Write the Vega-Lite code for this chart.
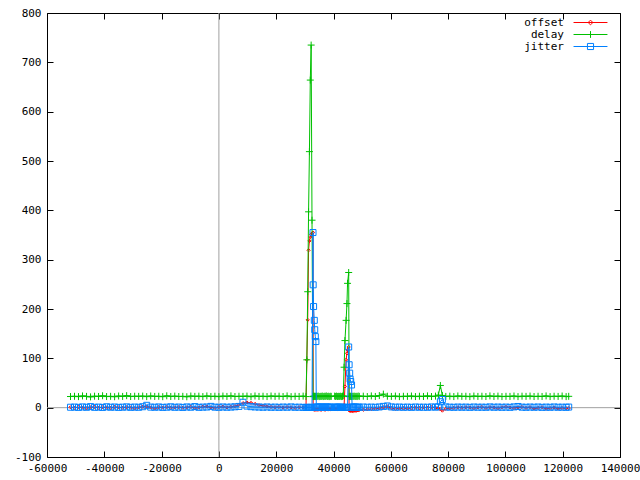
{
  "$schema": "https://vega.github.io/schema/vega-lite/v6.json",
  "width": 573,
  "height": 444,
  "autosize": {"type": "none"},
  "padding": {"left": 47, "top": 13, "right": 20, "bottom": 23},
  "background": "white",
  "config": {
    "font": "DejaVu Sans Mono",
    "view": {"stroke": "black", "strokeWidth": 1},
    "axis": {"grid": false, "domain": false, "title": null, "ticks": true, "tickWidth": 1, "tickOpacity": 1, "labelFont": "DejaVu Sans Mono", "labelFontSize": 11, "labelColor": "black", "tickColor": "black", "tickSize": 6, "offset": -6, "labelFlush": false, "labelOverlap": false, "labelBound": false, "zindex": 2}
  },
  "datasets": {
    "ntp": [
      {"t": -51800, "offset": 0.8, "delay": 22.6, "jitter": 0.9},
      {"t": -50400, "offset": -0.5, "delay": 23.1, "jitter": 1.2},
      {"t": -49000, "offset": 1.2, "delay": 22.4, "jitter": 0.6},
      {"t": -47600, "offset": 0.3, "delay": 23.8, "jitter": 1.5},
      {"t": -46200, "offset": -1.1, "delay": 22.9, "jitter": 0.8},
      {"t": -44800, "offset": 0.6, "delay": 21.9, "jitter": 2.1},
      {"t": -43400, "offset": 1.5, "delay": 23.3, "jitter": 0.7},
      {"t": -42000, "offset": -0.4, "delay": 22.7, "jitter": 1.1},
      {"t": -40600, "offset": 0.9, "delay": 24.1, "jitter": 0.5},
      {"t": -39200, "offset": 0.2, "delay": 22.5, "jitter": 1.8},
      {"t": -37800, "offset": -0.8, "delay": 23.0, "jitter": 0.9},
      {"t": -36400, "offset": 1.4, "delay": 22.2, "jitter": 1.3},
      {"t": -35000, "offset": 0.5, "delay": 23.6, "jitter": 0.6},
      {"t": -33600, "offset": -0.3, "delay": 22.8, "jitter": 1.0},
      {"t": -32200, "offset": 1.0, "delay": 24.3, "jitter": 1.6},
      {"t": -30800, "offset": 0.1, "delay": 22.6, "jitter": 0.7},
      {"t": -29400, "offset": -1.2, "delay": 23.2, "jitter": 1.2},
      {"t": -28000, "offset": 0.7, "delay": 22.9, "jitter": 0.8},
      {"t": -26600, "offset": 1.8, "delay": 23.5, "jitter": 1.9},
      {"t": -25200, "offset": 2.5, "delay": 22.4, "jitter": 4.8},
      {"t": -23800, "offset": 0.4, "delay": 23.7, "jitter": 1.1},
      {"t": -22400, "offset": -1.6, "delay": 22.8, "jitter": 0.9},
      {"t": -21000, "offset": 0.9, "delay": 23.1, "jitter": 1.4},
      {"t": -19600, "offset": 0.2, "delay": 22.3, "jitter": 0.6},
      {"t": -18200, "offset": 1.3, "delay": 24.0, "jitter": 1.0},
      {"t": -16800, "offset": -0.6, "delay": 22.7, "jitter": 1.7},
      {"t": -15400, "offset": 0.5, "delay": 23.4, "jitter": 0.8},
      {"t": -14000, "offset": 1.1, "delay": 22.6, "jitter": 1.2},
      {"t": -12600, "offset": -0.2, "delay": 23.0, "jitter": 0.5},
      {"t": -11200, "offset": 0.8, "delay": 22.1, "jitter": 1.5},
      {"t": -9800, "offset": 1.6, "delay": 23.6, "jitter": 0.9},
      {"t": -8400, "offset": -0.9, "delay": 22.9, "jitter": 2.2},
      {"t": -7000, "offset": 0.4, "delay": 23.3, "jitter": 0.7},
      {"t": -5600, "offset": 1.9, "delay": 22.5, "jitter": 1.1},
      {"t": -4200, "offset": 2.4, "delay": 23.8, "jitter": 1.3},
      {"t": -2800, "offset": 0.6, "delay": 22.7, "jitter": 2.6},
      {"t": -1400, "offset": -0.7, "delay": 23.2, "jitter": 1.0},
      {"t": 0, "offset": 1.2, "delay": 22.4, "jitter": 0.8},
      {"t": 1400, "offset": 2.0, "delay": 23.5, "jitter": 1.4},
      {"t": 2800, "offset": 0.5, "delay": 22.8, "jitter": 0.9},
      {"t": 4200, "offset": 1.7, "delay": 23.9, "jitter": 1.2},
      {"t": 5600, "offset": 3.1, "delay": 22.6, "jitter": 1.8},
      {"t": 7000, "offset": 5.4, "delay": 23.1, "jitter": 2.5},
      {"t": 8400, "offset": 9.2, "delay": 22.9, "jitter": 11.0},
      {"t": 9800, "offset": 10.5, "delay": 23.4, "jitter": 3.2},
      {"t": 11200, "offset": 9.8, "delay": 22.3, "jitter": 2.0},
      {"t": 12600, "offset": 7.6, "delay": 23.7, "jitter": 1.5},
      {"t": 14000, "offset": 5.2, "delay": 22.8, "jitter": 1.2},
      {"t": 15400, "offset": 3.9, "delay": 23.2, "jitter": 0.9},
      {"t": 16800, "offset": 2.6, "delay": 22.5, "jitter": 1.4},
      {"t": 18200, "offset": 1.5, "delay": 23.6, "jitter": 0.8},
      {"t": 19600, "offset": 0.8, "delay": 22.9, "jitter": 1.1},
      {"t": 21000, "offset": 1.4, "delay": 23.3, "jitter": 0.7},
      {"t": 22400, "offset": 0.3, "delay": 22.6, "jitter": 1.2},
      {"t": 23800, "offset": 1.1, "delay": 23.8, "jitter": 0.9},
      {"t": 25200, "offset": 0.6, "delay": 22.4, "jitter": 1.5},
      {"t": 26600, "offset": -0.4, "delay": 23.1, "jitter": 0.8},
      {"t": 28000, "offset": 0.9, "delay": 22.7, "jitter": 1.0},
      {"t": 29400, "offset": 0.4, "delay": 23.4, "jitter": 0.6},
      {"t": 30400, "offset": 0.5, "delay": 22.5, "jitter": 0.6},
      {"t": 30700, "offset": 97, "delay": 97, "jitter": 0.5},
      {"t": 31000, "offset": 178, "delay": 235, "jitter": 0.4},
      {"t": 31300, "offset": 319, "delay": 397, "jitter": 0.4},
      {"t": 31600, "offset": 338, "delay": 519, "jitter": 0.5},
      {"t": 31900, "offset": 346, "delay": 664, "jitter": 0.5},
      {"t": 32200, "offset": 351, "delay": 735, "jitter": 0.5},
      {"t": 32500, "offset": 353, "delay": 380, "jitter": 0.6},
      {"t": 32850, "offset": 355, "delay": 22.4, "jitter": 355},
      {"t": 32900, "offset": -3.0, "delay": 23.1, "jitter": 249},
      {"t": 33050, "offset": -3.5, "delay": 22.6, "jitter": 205},
      {"t": 33300, "offset": -4.1, "delay": 23.3, "jitter": 177},
      {"t": 33450, "offset": -3.8, "delay": 22.5, "jitter": 158},
      {"t": 33650, "offset": -3.6, "delay": 23.0, "jitter": 144},
      {"t": 33850, "offset": -4.2, "delay": 22.4, "jitter": 134},
      {"t": 34000, "offset": -3.4, "delay": 23.2, "jitter": 1.5},
      {"t": 34300, "offset": -3.8, "delay": 22.8, "jitter": 0.9},
      {"t": 34650, "offset": -4.0, "delay": 23.5, "jitter": 1.2},
      {"t": 35000, "offset": -3.3, "delay": 22.4, "jitter": 0.8},
      {"t": 35350, "offset": -3.9, "delay": 23.0, "jitter": 1.1},
      {"t": 35700, "offset": -4.4, "delay": 22.7, "jitter": 0.7},
      {"t": 36050, "offset": -3.6, "delay": 23.6, "jitter": 1.3},
      {"t": 36400, "offset": -3.1, "delay": 22.5, "jitter": 0.9},
      {"t": 36750, "offset": -3.7, "delay": 23.2, "jitter": 1.0},
      {"t": 37100, "offset": -4.2, "delay": 22.8, "jitter": 0.6},
      {"t": 37450, "offset": -3.5, "delay": 23.9, "jitter": 1.4},
      {"t": 37800, "offset": -3.0, "delay": 22.6, "jitter": 0.8},
      {"t": 38150, "offset": -3.8, "delay": 23.3, "jitter": 1.1},
      {"t": 38500, "offset": -3.3, "delay": 22.4, "jitter": 0.7},
      {"t": 38850, "offset": -2.9, "delay": 23.1, "jitter": 1.2},
      {"t": 39200, "offset": -3.4, "delay": 22.9, "jitter": 0.9},
      {"t": 40400, "offset": -3.1, "delay": 23.4, "jitter": 1.0},
      {"t": 40750, "offset": -2.8, "delay": 22.7, "jitter": 0.8},
      {"t": 41100, "offset": -3.2, "delay": 23.5, "jitter": 1.1},
      {"t": 41450, "offset": -2.5, "delay": 22.6, "jitter": 0.9},
      {"t": 41800, "offset": -2.9, "delay": 23.0, "jitter": 0.7},
      {"t": 42150, "offset": -2.6, "delay": 22.8, "jitter": 1.0},
      {"t": 42500, "offset": -2.2, "delay": 23.3, "jitter": 0.8},
      {"t": 42850, "offset": -2.7, "delay": 22.5, "jitter": 0.6},
      {"t": 43150, "offset": -2.3, "delay": 23.1, "jitter": 0.9},
      {"t": 43400, "offset": -2.0, "delay": 24.0, "jitter": 0.5},
      {"t": 43700, "offset": 5, "delay": 82, "jitter": 0.5},
      {"t": 44000, "offset": 43, "delay": 136, "jitter": 0.5},
      {"t": 44400, "offset": 97, "delay": 177, "jitter": 0.5},
      {"t": 44700, "offset": 110, "delay": 211, "jitter": 0.5},
      {"t": 44900, "offset": 117, "delay": 252, "jitter": 0.6},
      {"t": 45300, "offset": 123, "delay": 274, "jitter": 123},
      {"t": 45450, "offset": -5.2, "delay": 22.4, "jitter": 87},
      {"t": 45650, "offset": -6.1, "delay": 23.1, "jitter": 70},
      {"t": 45800, "offset": -5.8, "delay": 22.6, "jitter": 58},
      {"t": 46000, "offset": -6.5, "delay": 23.3, "jitter": 53},
      {"t": 46300, "offset": -6.0, "delay": 22.5, "jitter": 46},
      {"t": 46500, "offset": -6.3, "delay": 23.0, "jitter": 1.5},
      {"t": 46850, "offset": -6.8, "delay": 22.8, "jitter": 0.9},
      {"t": 47200, "offset": -6.2, "delay": 23.4, "jitter": 1.2},
      {"t": 47550, "offset": -5.9, "delay": 22.7, "jitter": 0.8},
      {"t": 47900, "offset": -6.4, "delay": 23.1, "jitter": 1.0},
      {"t": 48250, "offset": -5.5, "delay": 22.5, "jitter": 0.7},
      {"t": 48600, "offset": -5.1, "delay": 23.6, "jitter": 1.1},
      {"t": 49000, "offset": -4.6, "delay": 22.9, "jitter": 0.8},
      {"t": 50400, "offset": -4.2, "delay": 23.3, "jitter": 1.3},
      {"t": 51800, "offset": -3.5, "delay": 22.6, "jitter": 0.9},
      {"t": 53200, "offset": -2.8, "delay": 23.8, "jitter": 1.1},
      {"t": 54600, "offset": -2.1, "delay": 22.7, "jitter": 0.8},
      {"t": 56000, "offset": -1.5, "delay": 24.5, "jitter": 1.4},
      {"t": 57400, "offset": 0.8, "delay": 27.5, "jitter": 2.6},
      {"t": 58800, "offset": 2.5, "delay": 23.2, "jitter": 3.5},
      {"t": 60200, "offset": -1.2, "delay": 22.8, "jitter": 1.5},
      {"t": 61600, "offset": -2.4, "delay": 23.5, "jitter": 1.0},
      {"t": 63000, "offset": -1.8, "delay": 22.4, "jitter": 1.2},
      {"t": 64400, "offset": -0.9, "delay": 23.1, "jitter": 0.8},
      {"t": 65800, "offset": -1.5, "delay": 22.9, "jitter": 1.1},
      {"t": 67200, "offset": -0.6, "delay": 23.6, "jitter": 0.7},
      {"t": 68600, "offset": 0.4, "delay": 22.5, "jitter": 1.3},
      {"t": 70000, "offset": -0.8, "delay": 23.2, "jitter": 0.9},
      {"t": 71400, "offset": 0.6, "delay": 22.7, "jitter": 1.0},
      {"t": 72800, "offset": -0.3, "delay": 23.9, "jitter": 0.8},
      {"t": 74200, "offset": 0.9, "delay": 22.6, "jitter": 1.4},
      {"t": 75600, "offset": -0.5, "delay": 23.4, "jitter": 1.1},
      {"t": 76600, "offset": -1.2, "delay": 25.5, "jitter": 1.8},
      {"t": 77300, "offset": -3.5, "delay": 45.0, "jitter": 12.0},
      {"t": 78000, "offset": -6.0, "delay": 24.8, "jitter": 16.5},
      {"t": 79200, "offset": -2.6, "delay": 22.8, "jitter": 1.6},
      {"t": 80600, "offset": -1.3, "delay": 23.3, "jitter": 1.0},
      {"t": 82000, "offset": -0.4, "delay": 22.5, "jitter": 0.8},
      {"t": 83400, "offset": 0.7, "delay": 23.7, "jitter": 1.2},
      {"t": 84800, "offset": -0.2, "delay": 22.9, "jitter": 0.9},
      {"t": 86200, "offset": 0.8, "delay": 23.1, "jitter": 1.1},
      {"t": 87600, "offset": 0.3, "delay": 22.4, "jitter": 0.7},
      {"t": 89000, "offset": -0.9, "delay": 23.5, "jitter": 1.3},
      {"t": 90400, "offset": 0.5, "delay": 22.8, "jitter": 0.9},
      {"t": 91800, "offset": 1.2, "delay": 23.2, "jitter": 1.0},
      {"t": 93200, "offset": -0.6, "delay": 22.6, "jitter": 0.8},
      {"t": 94600, "offset": 0.9, "delay": 23.8, "jitter": 1.5},
      {"t": 96000, "offset": 0.2, "delay": 22.7, "jitter": 0.9},
      {"t": 97400, "offset": -1.1, "delay": 23.4, "jitter": 1.2},
      {"t": 98800, "offset": 0.7, "delay": 22.5, "jitter": 0.8},
      {"t": 100200, "offset": 1.6, "delay": 23.0, "jitter": 1.1},
      {"t": 101600, "offset": 0.4, "delay": 22.8, "jitter": 0.7},
      {"t": 103000, "offset": -0.8, "delay": 23.6, "jitter": 1.6},
      {"t": 104400, "offset": 0.6, "delay": 22.4, "jitter": 2.4},
      {"t": 105800, "offset": 1.3, "delay": 23.3, "jitter": 1.0},
      {"t": 107200, "offset": -0.4, "delay": 22.9, "jitter": 0.8},
      {"t": 108600, "offset": 0.9, "delay": 23.5, "jitter": 1.2},
      {"t": 110000, "offset": -1.7, "delay": 22.6, "jitter": 0.9},
      {"t": 111400, "offset": -0.5, "delay": 23.1, "jitter": 1.3},
      {"t": 112800, "offset": 0.8, "delay": 22.7, "jitter": 0.7},
      {"t": 114200, "offset": -2.1, "delay": 23.8, "jitter": 1.1},
      {"t": 115600, "offset": -0.9, "delay": 22.5, "jitter": 0.8},
      {"t": 117000, "offset": 0.4, "delay": 23.2, "jitter": 1.4},
      {"t": 118400, "offset": -1.9, "delay": 22.8, "jitter": 0.9},
      {"t": 119800, "offset": -0.6, "delay": 23.6, "jitter": 1.0},
      {"t": 121200, "offset": -1.4, "delay": 22.4, "jitter": 0.8},
      {"t": 122100, "offset": -0.8, "delay": 23.0, "jitter": 1.2}
    ]
  },
  "resolve": {"axis": {"x": "independent", "y": "independent"}},
  "layer": [
    {
      "data": {"values": [{}]},
      "mark": {"type": "rule", "color": "#a0a0a0", "strokeWidth": 1},
      "encoding": {
        "x": {"datum": 0, "type": "quantitative", "scale": {"domain": [-60000, 140000], "nice": false, "zero": false},
          "axis": {"orient": "top", "labels": false, "values": [-60000, -40000, -20000, 0, 20000, 40000, 60000, 80000, 100000, 120000, 140000]}}
      }
    },
    {
      "data": {"values": [{}]},
      "mark": {"type": "rule", "color": "#a0a0a0", "strokeWidth": 1},
      "encoding": {
        "y": {"datum": 0, "type": "quantitative", "scale": {"domain": [-100, 800], "nice": false, "zero": false},
          "axis": {"orient": "right", "labels": false, "values": [-100, 0, 100, 200, 300, 400, 500, 600, 700, 800]}}
      }
    },
    {
      "data": {"name": "ntp"},
      "transform": [{"fold": ["offset", "delay", "jitter"], "as": ["series", "value"]}],
      "encoding": {
        "x": {"field": "t", "type": "quantitative", "scale": {"domain": [-60000, 140000], "nice": false, "zero": false},
          "axis": {"orient": "bottom", "labelPadding": 5, "values": [-60000, -40000, -20000, 0, 20000, 40000, 60000, 80000, 100000, 120000, 140000], "labelExpr": "'' + datum.value"}},
        "y": {"field": "value", "type": "quantitative", "scale": {"domain": [-100, 800], "nice": false, "zero": false},
          "axis": {"orient": "left", "labelPadding": 6, "values": [-100, 0, 100, 200, 300, 400, 500, 600, 700, 800], "labelExpr": "'' + datum.value"}},
        "color": {"field": "series", "type": "nominal",
          "scale": {"domain": ["offset", "delay", "jitter"], "range": ["#ff0000", "#00c000", "#0080ff"]},
          "legend": {
            "orient": "none", "legendX": 538, "legendY": 4, "title": null, "padding": 0, "rowPadding": 0,
            "labelFont": "DejaVu Sans Mono", "labelFontSize": 11, "labelColor": "black", "labelAlign": "right", "labelOffset": -32,
            "symbolSize": 46, "symbolStrokeWidth": 1, "symbolOpacity": 1, "symbolType": "M-5,0H5",
            "encode": {"symbols": {"update": {
              "shape": {"signal": "datum.value === 'offset' ? 'M-5,0H5M0,-0.7L0.7,0L0,0.7L-0.7,0Z' : datum.value === 'delay' ? 'M-5,0H5M0,-1V1' : 'M-5,0H5M-0.9,-0.9H0.9V0.9H-0.9Z'"},
              "stroke": {"signal": "datum.value === 'offset' ? '#ff0000' : datum.value === 'delay' ? '#00c000' : '#0080ff'"},
              "fill": {"value": "transparent"},
              "opacity": {"value": 1}
            }}}
          }}
      },
      "layer": [
        {"transform": [{"filter": "datum.series === 'offset'"}], "mark": {"type": "line", "strokeWidth": 1}},
        {"transform": [{"filter": "datum.series === 'offset'"}], "mark": {"type": "point", "shape": "diamond", "size": 10, "filled": false, "strokeWidth": 1, "opacity": 1}},
        {"transform": [{"filter": "datum.series === 'delay'"}], "mark": {"type": "line", "strokeWidth": 1}},
        {"transform": [{"filter": "datum.series === 'delay'"}], "mark": {"type": "point", "shape": "M-1,0H1M0,-1V1", "size": 49, "filled": false, "strokeWidth": 1, "opacity": 1}},
        {"transform": [{"filter": "datum.series === 'jitter'"}], "mark": {"type": "line", "strokeWidth": 1}},
        {"transform": [{"filter": "datum.series === 'jitter'"}], "mark": {"type": "point", "shape": "square", "size": 36, "filled": false, "strokeWidth": 1, "opacity": 1}}
      ]
    }
  ]
}
